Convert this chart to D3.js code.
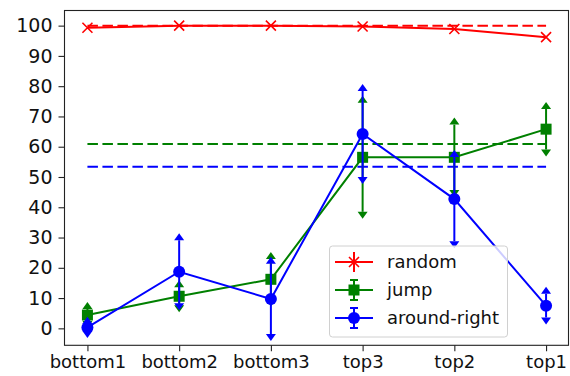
<!DOCTYPE html>
<html><head><meta charset="utf-8">
<script src="https://cdn.jsdelivr.net/npm/d3@7"></script>
<style>body{margin:0;background:#fff}svg{display:block;font-family:"DejaVu Sans",sans-serif}</style>
</head><body><svg id="c" width="570" height="376"></svg>
<script>
const categories = ["bottom1","bottom2","bottom3","top3","top2","top1"];
const yTicks = [0,10,20,30,40,50,60,70,80,90,100];
const randomVals = [99.3,100,100,99.7,98.9,96.2];
const jumpVals = [4.4,10.6,16.2,56.5,56.5,65.8];
const jumpErr = [2,3,6.7,18,10.8,6.7];
const aroundVals = [0.3,18.7,9.7,64.2,42.7,7.5];
const aroundErr = [1.2,10.4,11.6,14.2,13.9,3.9];
const randomBase = 100, jumpBase = 60.9, aroundBase = 53.4;
const seriesNames = ["random","jump","around-right"];

const svg = d3.select("#c");
const L=64.5,R=569,T=10.5,B=345.3;
const x = d3.scaleLinear().domain([-0.25,5.25]).range([L,R]);
const y = d3.scaleLinear().domain([-5.6,105]).range([B,T]);
const RED="#ff0000",GREEN="#008000",BLUE="#0000ff";

// axes
const xa = svg.append("g").attr("transform",`translate(0,${B})`)
  .call(d3.axisBottom(x).tickValues(d3.range(categories.length)).tickFormat(i=>categories[i]).tickSize(6).tickPadding(4));
const ya = svg.append("g").attr("transform",`translate(${L},0)`)
  .call(d3.axisLeft(y).tickValues(yTicks).tickSize(6).tickPadding(6));
[xa,ya].forEach(a=>{a.select(".domain").remove();a.selectAll("text").attr("fill","#111").attr("font-family","DejaVu Sans");a.selectAll("line").attr("stroke","#222").attr("stroke-width",1.1);});
xa.selectAll("text").attr("font-size",18);
ya.selectAll("text").attr("font-size",19);

const plot = svg.append("g");
// baselines
[[randomBase,RED],[jumpBase,GREEN],[aroundBase,BLUE]].forEach(([v,c])=>{
  plot.append("line").attr("x1",x(0)).attr("x2",x(5)).attr("y1",y(v)).attr("y2",y(v))
   .attr("stroke",c).attr("stroke-width",2).attr("stroke-dasharray","10.5,4.5");
});

const line = d3.line().x((d,i)=>x(i)).y(d=>y(d));
function caret(g,cx,cy,up,c){
  const w=5,h=7;
  const pts = up?[[cx-w,cy],[cx+w,cy],[cx,cy-h]]:[[cx-w,cy],[cx+w,cy],[cx,cy+h]];
  g.append("path").attr("d","M"+pts.map(p=>p.join(",")).join("L")+"Z").attr("fill",c);
}
function series(vals,errs,c,marker){
  const g = plot.append("g");
  if(errs){
    vals.forEach((v,i)=>{
      g.append("line").attr("x1",x(i)).attr("x2",x(i)).attr("y1",y(v-errs[i])).attr("y2",y(v+errs[i])).attr("stroke",c).attr("stroke-width",2);
      caret(g,x(i),y(v+errs[i]),true,c);
      caret(g,x(i),y(v-errs[i]),false,c);
    });
  }
  g.append("path").attr("d",line(vals)).attr("fill","none").attr("stroke",c).attr("stroke-width",2);
  vals.forEach((v,i)=>marker(g,x(i),y(v),c));
}
const mX=(g,cx,cy,c)=>{const s=5;g.append("path").attr("d",`M${cx-s},${cy-s}L${cx+s},${cy+s}M${cx-s},${cy+s}L${cx+s},${cy-s}`).attr("stroke",c).attr("stroke-width",1.6);};
const mS=(g,cx,cy,c)=>{const s=5.5;g.append("rect").attr("x",cx-s).attr("y",cy-s).attr("width",2*s).attr("height",2*s).attr("fill",c);};
const mO=(g,cx,cy,c)=>{g.append("circle").attr("cx",cx).attr("cy",cy).attr("r",6).attr("fill",c);};

series(randomVals,null,RED,mX);
series(jumpVals,jumpErr,GREEN,mS);
series(aroundVals,aroundErr,BLUE,mO);

// frame
svg.append("rect").attr("x",L).attr("y",T).attr("width",R-L-0.5).attr("height",B-T).attr("fill","none").attr("stroke","#222").attr("stroke-width",1.1);

// legend
const lg = svg.append("g");
lg.append("rect").attr("x",329.5).attr("y",246).attr("width",178).attr("height",91).attr("rx",3)
  .attr("fill","#fff").attr("fill-opacity",0.8).attr("stroke","#d0d0d0").attr("stroke-width",1);
const cols=[RED,GREEN,BLUE], mk=[mX,mS,mO];
seriesNames.forEach((n,i)=>{
  const cy=262+i*28, x0=335,x1=373,cx=354;
  lg.append("line").attr("x1",x0).attr("x2",x1).attr("y1",cy).attr("y2",cy).attr("stroke",cols[i]).attr("stroke-width",2);
  lg.append("line").attr("x1",cx).attr("x2",cx).attr("y1",cy-10).attr("y2",cy+10).attr("stroke",cols[i]).attr("stroke-width",2);
  if(i>0){[cy-10,cy+10].forEach(yy=>lg.append("line").attr("x1",cx-4).attr("x2",cx+4).attr("y1",yy).attr("y2",yy).attr("stroke",cols[i]).attr("stroke-width",2));}
  mk[i](lg,cx,cy,cols[i]);
  lg.append("text").attr("x",387).attr("y",cy).attr("dy","0.35em").attr("font-size",18).attr("fill","#111").text(n);
});
</script></body></html>
